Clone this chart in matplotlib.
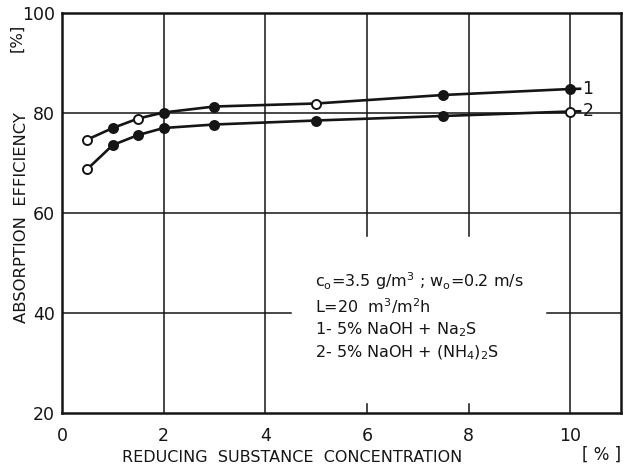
import matplotlib
matplotlib.use("Agg")
import matplotlib.pyplot as plt

# ---- data ----
conc = [0.5, 1.0, 1.5, 2.0, 3.0, 5.0, 7.5, 10.0]
eff_1 = [74.7, 77.0, 78.9, 80.1, 81.3, 81.9, 83.6, 84.8]
open_1 = [True, False, True, False, False, True, False, False]
eff_2 = [68.8, 73.6, 75.6, 77.0, 77.7, 78.5, 79.4, 80.3]
open_2 = [True, False, False, False, False, False, False, True]
xticks = [0, 2, 4, 6, 8, 10]
yticks = [20, 40, 60, 80, 100]
curve_labels = ["1", "2"]
notes = [
    r"c$_{\mathrm{o}}$=3.5 g/m$^{3}$ ; w$_{\mathrm{o}}$=0.2 m/s",
    r"L=20  m$^{3}$/m$^{2}$h",
    r"1- 5% NaOH + Na$_{2}$S",
    r"2- 5% NaOH + (NH$_{4}$)$_{2}$S",
]

ink = "#151515"
plt.rcParams['font.family'] = ['DejaVu Sans']
plt.rcParams['mathtext.default'] = 'regular'

fig = plt.figure(figsize=(6.24, 4.66), dpi=100)
ax = fig.add_axes([62 / 624, 1 - 413 / 466, (621 - 62) / 624, (413 - 13) / 466])
ax.set_xlim(0, 11)
ax.set_ylim(20, 100)

# grid (partial lines as in the original)
gl = dict(color=ink, lw=1.1, zorder=1)
ax.axhline(80, **gl)
ax.axhline(60, **gl)
ax.plot([0, 4.5], [40, 40], **gl)
ax.plot([9.55, 11], [40, 40], **gl)
for xv in [2, 4, 10]:
    ax.axvline(xv, **gl)
for xv in [6, 8]:
    ax.plot([xv, xv], [55.5, 100], **gl)
    ax.plot([xv, xv], [20, 21.8], **gl)

# curves
for ys, opens, lab in [(eff_1, open_1, curve_labels[0]), (eff_2, open_2, curve_labels[1])]:
    ax.plot(conc + [10.22], ys + [ys[-1] + 0.05], color=ink, lw=1.9, zorder=2,
            solid_capstyle='butt')
    for xv, yv, o in zip(conc, ys, opens):
        ax.plot(xv, yv, 'o', ms=6.5, mec=ink, mew=1.4,
                mfc='white' if o else ink, zorder=3)
    ax.text(10.24, ys[-1] + 0.1, lab, fontsize=12.5, color=ink, va='center', ha='left')

# notes
for i, t in enumerate(notes):
    ax.text(4.98, 46.4 - i * 4.7 - (0.3 if i > 0 else 0), t, fontsize=11.5, color=ink,
            va='center', ha='left')

ax.set_xticks(xticks)
ax.set_yticks(yticks)
ax.tick_params(axis='both', length=0, labelsize=12.5, colors=ink)
ax.tick_params(axis='x', pad=10)
ax.tick_params(axis='y', pad=5)
for s in ax.spines.values():
    s.set_linewidth(1.8)
    s.set_color(ink)

fig.text(292 / 624, 1 - 457 / 466, "REDUCING  SUBSTANCE  CONCENTRATION",
         fontsize=11.5, color=ink, ha='center', va='center')
fig.text(602 / 624, 1 - 455 / 466, "[ % ]", fontsize=12, color=ink,
         ha='center', va='center')
fig.text(22 / 624, 1 - 218 / 466, "ABSORPTION  EFFICIENCY",
         fontsize=11.8, color=ink, ha='center', va='center', rotation=90)
fig.text(17 / 624, 1 - 38 / 466, "[%]",
         fontsize=11.8, color=ink, ha='center', va='center', rotation=90)

fig.savefig("out.png", dpi=100, facecolor='white')
